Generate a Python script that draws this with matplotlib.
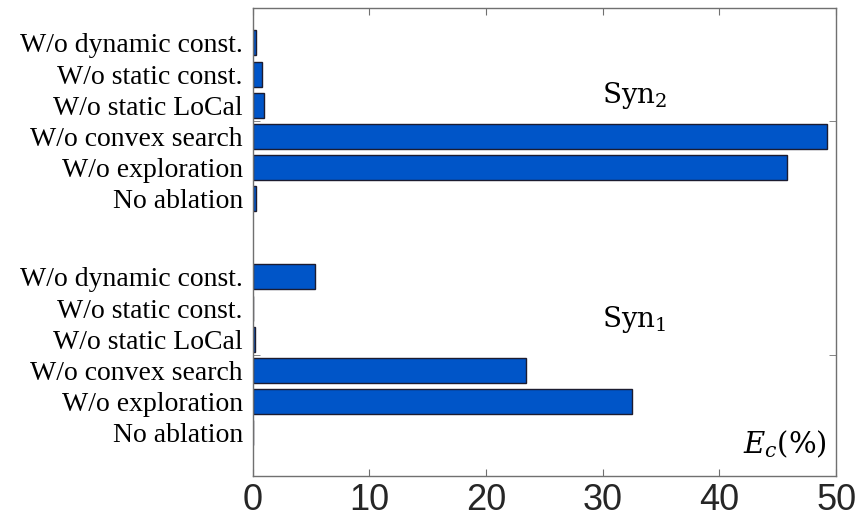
import numpy as np
import matplotlib
matplotlib.use("Agg")
import matplotlib.pyplot as plt

# ablation settings, listed bottom to top within each group
settings = ["No ablation", "W/o exploration", "W/o convex search",
            "W/o static LoCal", "W/o static const.", "W/o dynamic const."]
groups = ["Syn$_1$", "Syn$_2$"]
syn1_ec = [0.0, 32.5, 23.4, 0.19, 0.0, 5.35]
syn2_ec = [0.27, 45.8, 49.2, 1.0, 0.8, 0.27]

plt.rcParams['mathtext.fontset'] = 'dejavuserif'

fig = plt.figure(figsize=(8.62, 5.25), dpi=100)
ax = fig.add_axes([0.293, 0.0933, 0.677, 0.8917])

# bar slots: group 1 at 1..6, group 2 at 8.5..13.5
pos1 = np.arange(1, 7)
pos2 = np.arange(1, 7) + 7.5
bar_kw = dict(height=0.8, color='#0055C8', edgecolor='#1c1c30', linewidth=1.0)
ax.barh(pos1, syn1_ec, **bar_kw)
ax.barh(pos2, syn2_ec, **bar_kw)

ax.set_xlim(0, 50)
ax.set_ylim(-0.38, 14.62)
ax.set_xticks([0, 10, 20, 30, 40, 50])
ax.tick_params(axis='x', direction='in', length=5, top=True, pad=5,
               labelsize=26, color='#707070', labelcolor='#262626')
for lbl in ax.get_xticklabels():
    lbl.set_family('Liberation Sans')

# setting names as y tick labels, group centers as tick marks
ax.set_yticks(np.concatenate([pos1, pos2]))
ax.set_yticklabels(settings + settings, family='Liberation Serif', fontsize=20)
ax.tick_params(axis='y', length=0, pad=7)
ax.set_yticks([3.5, 11], minor=True)
ax.tick_params(axis='y', which='minor', direction='in', length=5,
               right=True, color='#707070')

for sp in ax.spines.values():
    sp.set_color('#707070')
    sp.set_linewidth(1.0)

ax.text(29.9, 11.8, groups[1], fontsize=20, family='DejaVu Serif', va='center')
ax.text(29.9, 4.65, groups[0], fontsize=20, family='DejaVu Serif', va='center')
ax.text(0.985, 0.035, "$E_c$(%)", transform=ax.transAxes, ha='right',
        va='bottom', fontsize=21, family='DejaVu Serif')

fig.savefig("out.png", dpi=100)
